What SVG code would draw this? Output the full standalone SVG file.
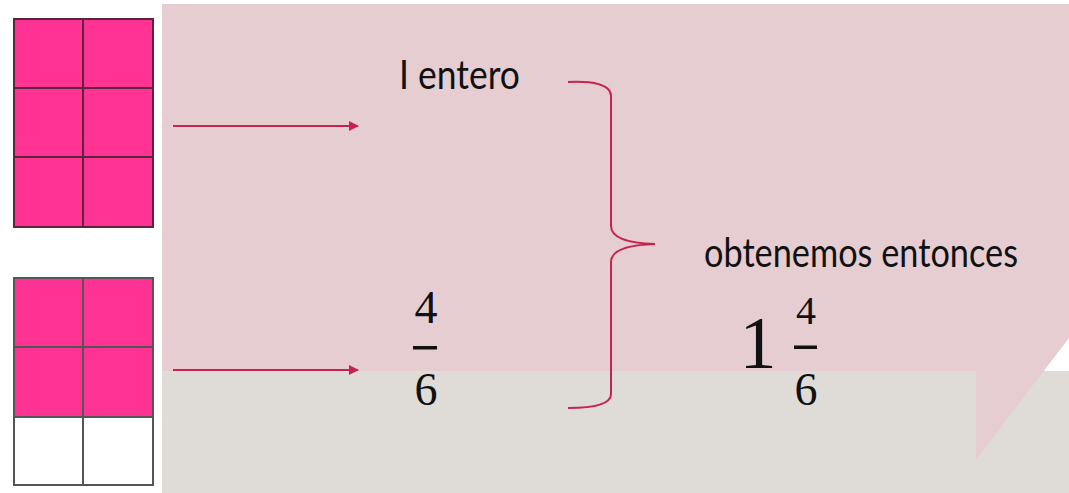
<svg xmlns="http://www.w3.org/2000/svg" width="1069" height="493" viewBox="0 0 1069 493">
  <style>
    .txt { font-family: Lato, "Open Sans", "Liberation Sans", sans-serif; font-size: 40px; fill: #111; }
    .num { font-family: "Liberation Serif", "DejaVu Serif", serif; fill: #111; text-anchor: middle; }
    .cellp { fill: #fe3393; }
    .cellw { fill: #ffffff; }
    .grid1 { fill: none; stroke: #5b2639; stroke-width: 2; }
    .grid2 { fill: none; stroke: #555555; stroke-width: 2; }
    .conn { fill: none; stroke: #c8234f; stroke-width: 2; }
    .bar { fill: #111; }
  </style>
  <defs>
    <marker id="arrow" viewBox="0 0 10 10" refX="9" refY="5" markerWidth="5" markerHeight="5" orient="auto" markerUnits="strokeWidth">
      <path d="M0,0 L10,5 L0,10 Z" fill="#c8234f"/>
    </marker>
  </defs>

  <!-- background -->
  <rect x="0" y="0" width="1069" height="493" fill="#ffffff"/>
  <rect x="162" y="371" width="907" height="122" fill="#dfdcd7"/>
  <polygon points="162,4 1069,4 1069,338 976,460 976,371 162,371" fill="#e5cdd1"/>

  <!-- grid 1: whole -->
  <g id="grid-whole">
    <rect class="cellp" x="14" y="19" width="139" height="208"/>
    <rect class="grid1" x="14" y="19" width="139" height="208"/>
    <line class="grid1" x1="83" y1="19" x2="83" y2="227"/>
    <line class="grid1" x1="14" y1="88" x2="153" y2="88"/>
    <line class="grid1" x1="14" y1="157" x2="153" y2="157"/>
  </g>

  <!-- grid 2: four sixths -->
  <g id="grid-fraction">
    <rect class="cellp" x="14" y="278" width="139" height="139"/>
    <rect class="cellw" x="14" y="417" width="139" height="68"/>
    <rect class="grid2" x="14" y="278" width="139" height="207"/>
    <line class="grid2" x1="83" y1="278" x2="83" y2="485"/>
    <line class="grid2" x1="14" y1="347" x2="153" y2="347"/>
    <line class="grid2" x1="14" y1="417" x2="153" y2="417"/>
  </g>

  <g id="connectors">
    <line class="conn" x1="173" y1="126" x2="358" y2="126" marker-end="url(#arrow)"/>
    <line class="conn" x1="173" y1="370" x2="358" y2="370" marker-end="url(#arrow)"/>
    <path class="conn" d="M568,82 C592,81 611,84 611,96 L611,226 C611,237 624,243 655,244 C624,245 611,251 611,262 L611,394 C611,405 592,408 568,408"/>
  </g>

  <g id="label-entero">
    <text class="txt" x="399" y="89" textLength="121" lengthAdjust="spacingAndGlyphs">I entero</text>
  </g>

  <g id="fraction-four-sixths">
    <text class="num" x="426" y="323" font-size="46">4</text>
    <rect class="bar" x="413" y="346" width="24" height="3.5"/>
    <text class="num" x="426" y="405" font-size="46">6</text>
  </g>

  <g id="label-result">
    <text class="txt" x="704" y="267" textLength="314" lengthAdjust="spacingAndGlyphs">obtenemos entonces</text>
  </g>

  <g id="mixed-number">
    <text class="num" x="758" y="368" font-size="74">1</text>
    <text class="num" x="806" y="324" font-size="40">4</text>
    <rect class="bar" x="794" y="345.5" width="23" height="3.5"/>
    <text class="num" x="806" y="405" font-size="46">6</text>
  </g>
</svg>
